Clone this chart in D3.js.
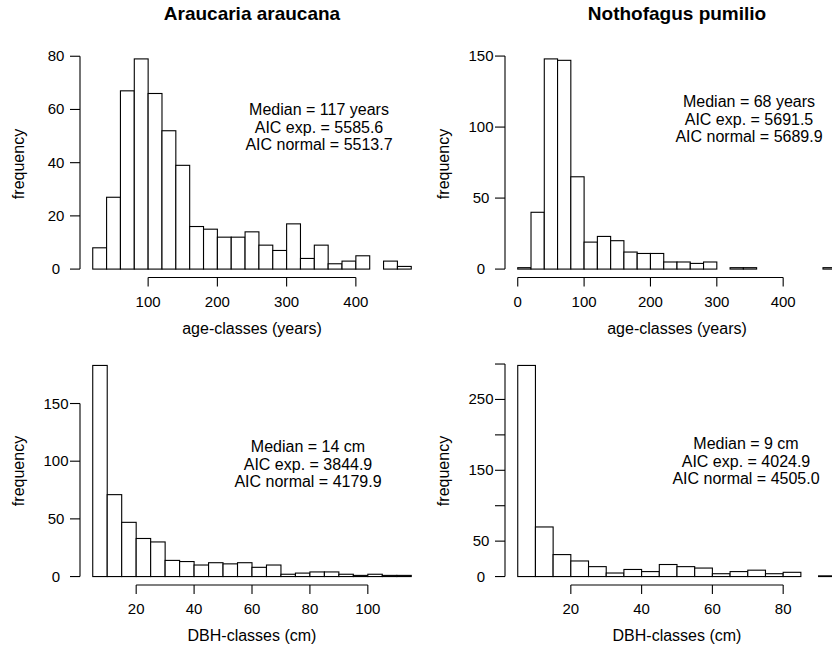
<!DOCTYPE html>
<html lang="en">
<head>
<meta charset="UTF-8">
<title>Age and DBH class histograms</title>
<script src="https://d3js.org/d3.v7.min.js"></script>
<style>
  body { margin: 0; background: #fff; }
  text { font-family: "Liberation Sans", Arial, sans-serif; fill: #000; }
</style>
</head>
<body>
<div id="chart"></div>
<script>
  const W = 832, H = 648;

  // species titles
  const titles = ["Araucaria araucana", "Nothofagus pumilio"];

  // Araucaria, age classes (20-year bins from 20 to 480)
  const araAgeStart = 20, araAgeWidth = 20;
  const araAgeCounts = [8, 27, 67, 79, 66, 52, 39, 16, 15, 12, 12, 14, 9, 7, 17, 4, 9, 2, 3, 5, 0, 3, 1];
  const araAgeXTicks = [100, 200, 300, 400];
  const araAgeYTicks = [0, 20, 40, 60, 80];
  const araAgeNotes = ["Median = 117 years", "AIC exp. = 5585.6", "AIC normal = 5513.7"];

  // Nothofagus, age classes (20-year bins from 0 to 480)
  const notAgeStart = 0, notAgeWidth = 20;
  const notAgeCounts = [1, 40, 148, 147, 65, 19, 23, 20, 12, 11, 11, 5, 5, 4, 5, 0, 1, 1, 0, 0, 0, 0, 0, 1];
  const notAgeXTicks = [0, 100, 200, 300, 400];
  const notAgeYTicks = [0, 50, 100, 150];
  const notAgeNotes = ["Median = 68 years", "AIC exp. = 5691.5", "AIC normal = 5689.9"];

  // Araucaria, DBH classes (5-cm bins from 5 to 115)
  const araDbhStart = 5, araDbhWidth = 5;
  const araDbhCounts = [183, 71, 47, 33, 30, 14, 13, 10, 12, 11, 12, 8, 10, 2, 3, 4, 4, 2, 1, 2, 1, 1];
  const araDbhXTicks = [20, 40, 60, 80, 100];
  const araDbhYTicks = [0, 50, 100, 150];
  const araDbhNotes = ["Median = 14 cm", "AIC exp. = 3844.9", "AIC normal = 4179.9"];

  // Nothofagus, DBH classes (5-cm bins from 5 to 95)
  const notDbhStart = 5, notDbhWidth = 5;
  const notDbhCounts = [298, 70, 31, 22, 14, 5, 10, 7, 17, 14, 12, 4, 7, 9, 4, 6, 0, 1];
  const notDbhXTicks = [20, 40, 60, 80];
  const notDbhYTicks = [0, 50, 100, 150, 200, 250, 300];
  const notDbhYLabels = [0, 50, 150, 250]; // R drops the overlapping ones
  const notDbhNotes = ["Median = 9 cm", "AIC exp. = 4024.9", "AIC normal = 4505.0"];

  const svg = d3.select("#chart").append("svg")
    .attr("width", W)
    .attr("height", H);

  // titles over the two columns
  svg.selectAll(".title")
    .data(titles)
    .enter()
    .append("text")
    .attr("class", "title")
    .attr("x", (d, i) => i === 0 ? 252 : 677)
    .attr("y", 20)
    .attr("text-anchor", "middle")
    .style("font-weight", "bold")
    .style("font-size", "19px")
    .text(d => d);

  function drawPanel(p) {
    const bins = p.counts.map((c, i) => ({
      x0: p.start + i * p.width,
      x1: p.start + (i + 1) * p.width,
      n: c
    }));
    const lo = bins[0].x0, hi = bins[bins.length - 1].x1;
    const pad = (hi - lo) * 0.04;
    const ymax = d3.max(p.counts);

    const x = d3.scaleLinear().domain([lo - pad, hi + pad]).range([p.left, p.right]);
    const y = d3.scaleLinear().domain([-ymax * 0.04, ymax * 1.04]).range([p.bottom, p.top]);

    const g = svg.append("g");

    // bars
    g.selectAll("rect")
      .data(bins.filter(b => b.n > 0))
      .enter()
      .append("rect")
      .attr("x", d => x(d.x0))
      .attr("y", d => y(d.n))
      .attr("width", d => x(d.x1) - x(d.x0))
      .attr("height", d => y(0) - y(d.n))
      .attr("fill", "#fff")
      .attr("stroke", "#000")
      .attr("stroke-width", 1.1);

    // x axis, R style: line from first to last tick
    const xa = g.append("g").attr("transform", `translate(0,${p.bottom})`);
    xa.append("line")
      .attr("x1", x(p.xTicks[0])).attr("x2", x(p.xTicks[p.xTicks.length - 1]))
      .attr("stroke", "#000").attr("stroke-width", 1.1);
    xa.selectAll(".xt")
      .data(p.xTicks)
      .enter()
      .append("line")
      .attr("x1", d => x(d)).attr("x2", d => x(d))
      .attr("y1", 0).attr("y2", 9)
      .attr("stroke", "#000").attr("stroke-width", 1.1);
    xa.selectAll(".xl")
      .data(p.xTicks)
      .enter()
      .append("text")
      .attr("x", d => x(d))
      .attr("y", 29)
      .attr("text-anchor", "middle")
      .style("font-size", "15px")
      .text(d => d);

    // y axis
    const ya = g.append("g").attr("transform", `translate(${p.left},0)`);
    ya.append("line")
      .attr("y1", y(p.yTicks[0])).attr("y2", y(p.yTicks[p.yTicks.length - 1]))
      .attr("stroke", "#000").attr("stroke-width", 1.1);
    ya.selectAll(".yt")
      .data(p.yTicks)
      .enter()
      .append("line")
      .attr("y1", d => y(d)).attr("y2", d => y(d))
      .attr("x1", -10).attr("x2", 0)
      .attr("stroke", "#000").attr("stroke-width", 1.1);
    ya.selectAll(".yl")
      .data(p.yLabels || p.yTicks)
      .enter()
      .append("text")
      .attr("x", -24)
      .attr("y", d => y(d) + 5)
      .attr("text-anchor", "middle")
      .style("font-size", "15px")
      .text(d => d);

    // axis titles
    g.append("text")
      .attr("x", (p.left + p.right) / 2)
      .attr("y", p.bottom + 56)
      .attr("text-anchor", "middle")
      .style("font-size", "16px")
      .text(p.xlab);

    g.append("text")
      .attr("transform", `translate(${p.left - 56},${(p.top + p.bottom) / 2}) rotate(-90)`)
      .attr("text-anchor", "middle")
      .style("font-size", "16px")
      .text("frequency");

    // fit summary
    g.selectAll(".note")
      .data(p.notes)
      .enter()
      .append("text")
      .attr("x", p.noteX)
      .attr("y", (d, i) => p.noteY + i * 17.5)
      .attr("text-anchor", "middle")
      .style("font-size", "16px")
      .text(d => d);
  }

  drawPanel({
    counts: araAgeCounts, start: araAgeStart, width: araAgeWidth,
    xTicks: araAgeXTicks, yTicks: araAgeYTicks, notes: araAgeNotes,
    xlab: "age-classes (years)",
    left: 80, right: 424, top: 50.5, bottom: 277.5,
    noteX: 319, noteY: 115
  });

  drawPanel({
    counts: notAgeCounts, start: notAgeStart, width: notAgeWidth,
    xTicks: notAgeXTicks, yTicks: notAgeYTicks, notes: notAgeNotes,
    xlab: "age-classes (years)",
    left: 505, right: 849, top: 50.5, bottom: 277.5,
    noteX: 749, noteY: 107
  });

  drawPanel({
    counts: araDbhCounts, start: araDbhStart, width: araDbhWidth,
    xTicks: araDbhXTicks, yTicks: araDbhYTicks, notes: araDbhNotes,
    xlab: "DBH-classes (cm)",
    left: 80, right: 424, top: 357, bottom: 585,
    noteX: 308, noteY: 452
  });

  drawPanel({
    counts: notDbhCounts, start: notDbhStart, width: notDbhWidth,
    xTicks: notDbhXTicks, yTicks: notDbhYTicks, yLabels: notDbhYLabels, notes: notDbhNotes,
    xlab: "DBH-classes (cm)",
    left: 505, right: 849, top: 357, bottom: 585,
    noteX: 746, noteY: 449
  });
</script>
</body>
</html>
